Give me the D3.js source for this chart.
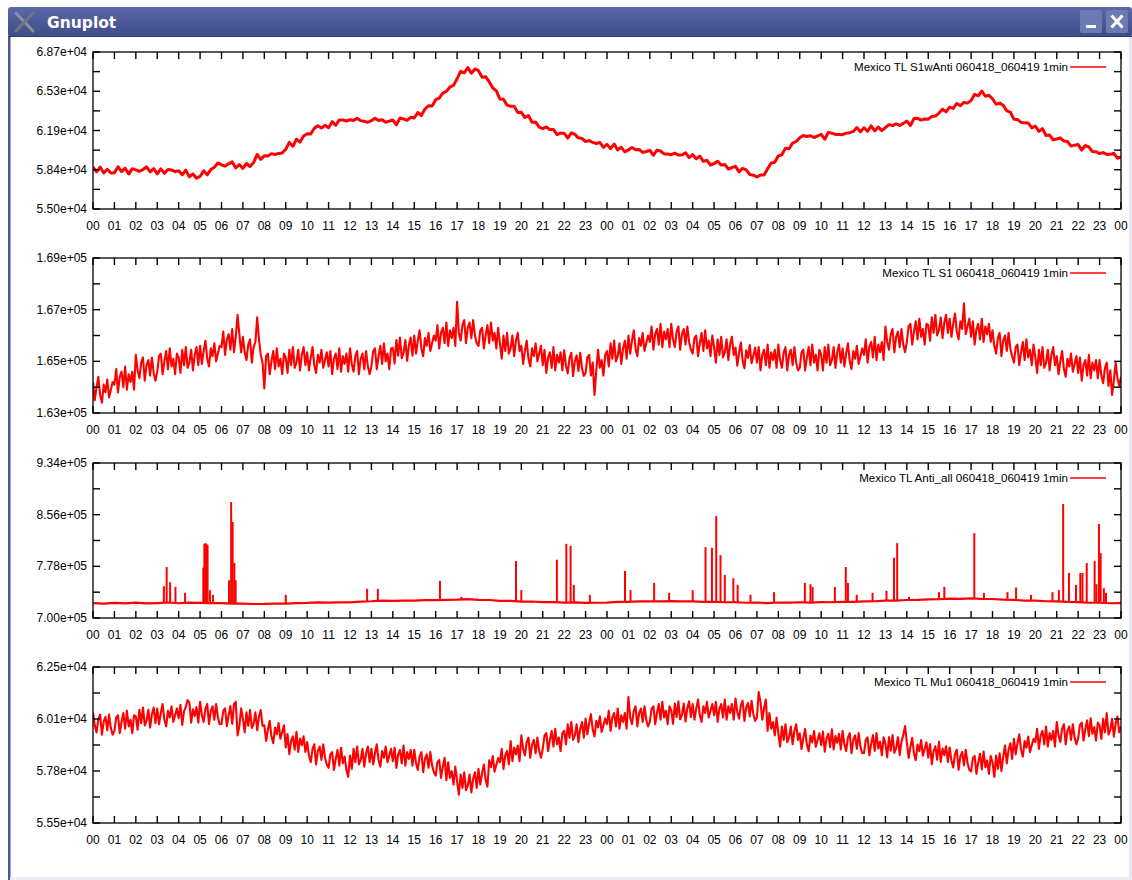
<!DOCTYPE html>
<html><head><meta charset="utf-8">
<script src="https://cdn.jsdelivr.net/npm/d3@7"></script>
<style>
body{margin:0;background:#fff;}
svg{display:block;}
text{font-family:"Liberation Sans",Arial,Helvetica,sans-serif;}
</style>
</head><body>
<svg id="c" width="1132" height="880"></svg>
<script>
// ---------------- DATA ----------------
const hourTicks = [0,1,2,3,4,5,6,7,8,9,10,11,12,13,14,15,16,17,18,19,20,21,22,23,24,25,26,27,28,29,30,31,32,33,34,35,36,37,38,39,40,41,42,43,44,45,46,47,48];
const hourLabels = ["00","01","02","03","04","05","06","07","08","09","10","11","12","13","14","15","16","17","18","19","20","21","22","23",
                    "00","01","02","03","04","05","06","07","08","09","10","11","12","13","14","15","16","17","18","19","20","21","22","23","00"];

const legendLabels = [
  "Mexico TL S1wAnti 060418_060419 1min",
  "Mexico TL S1 060418_060419 1min",
  "Mexico TL Anti_all 060418_060419 1min",
  "Mexico TL Mu1 060418_060419 1min"
];

const s1wAntiDomain = [55000, 68700];
const s1wAntiTicks = [55000, 58425, 61850, 65275, 68700];
const s1wAntiTickLabels = ["5.50e+04","5.84e+04","6.19e+04","6.53e+04","6.87e+04"];

const s1Domain = [163000, 169000];
const s1Ticks = [163000, 165000, 167000, 169000];
const s1TickLabels = ["1.63e+05","1.65e+05","1.67e+05","1.69e+05"];

const antiAllDomain = [700000, 934000];
const antiAllTicks = [700000, 778000, 856000, 934000];
const antiAllTickLabels = ["7.00e+05","7.78e+05","8.56e+05","9.34e+05"];

const mu1Domain = [55480, 62460];
const mu1Ticks = [55480, 57807, 60133, 62460];
const mu1TickLabels = ["5.55e+04","5.78e+04","6.01e+04","6.25e+04"];

// S1wAnti, one value every 10 minutes (one row per hour)
const s1wAntiStepHours = 1/6;
const s1wAnti = [
58660,58240,58660,58140,58470,58140,
58160,58690,58260,58560,58050,58520,
58420,58290,58440,58670,58240,58520,
58070,58500,58110,58450,58410,58260,
58340,57980,58390,57810,58060,57690,
57840,58330,57980,58440,58640,59020,
58850,58740,58940,59110,58580,58880,
58540,58970,58710,59050,59760,59330,
59640,59630,59830,59760,59850,59890,
60210,60810,60480,61090,60840,61370,
61570,61540,62040,62260,62060,62300,
62090,62620,62310,62770,62760,62680,
62790,62730,62910,62710,62650,62570,
62710,62910,62730,62790,62570,62670,
62770,62340,62940,62860,62740,63000,
62940,63420,63160,63720,64010,63980,
64540,64680,65110,65260,65650,65790,
66360,67010,66880,67340,66840,67220,
67070,66490,66540,66110,65560,65300,
64590,64570,64060,63970,63960,63430,
63440,62980,63160,62560,62600,62140,
62010,62160,61930,61940,61490,61620,
61620,61190,61640,61510,61210,61150,
60890,60970,60810,60720,60810,60380,
60640,60280,60660,60160,60380,59990,
60160,60360,60180,60190,59940,60020,
60120,59690,60140,60060,59810,59800,
59740,59870,59710,59720,59910,59480,
59740,59380,59610,59160,59250,58840,
58960,59160,58830,58890,58490,58620,
58720,58240,58540,58410,58010,57950,
57790,57970,57960,58520,59010,59080,
59640,59730,60310,60260,60750,60890,
61210,61410,61330,61390,61240,61370,
61520,61090,61690,61610,61510,61500,
61490,61620,61660,61770,62110,61730,
62090,61780,62260,61810,62150,61840,
62110,62360,62280,62440,62290,62470,
62670,62290,62890,62910,62760,62850,
62840,63070,63110,63370,63710,63480,
63890,63780,64210,64010,64300,64240,
64460,65010,64880,65290,64840,64920,
64620,64140,64240,64060,63560,63450,
62840,62820,62560,62520,62510,62080,
62240,61780,62010,61410,61450,61040,
61110,61210,60930,60890,60490,60570,
60620,60140,60540,60410,60010,60000,
59840,59920,59760,59770,59860,59430,
59550
];

// S1, one value every 5 minutes (one row per hour)
const s1StepHours = 1/12;
const s1 = [
164200,163500,164000,164400,163700,163400,164100,163800,164300,163600,163900,164200,
164100,164700,163800,164400,164600,164000,164800,163900,164500,164200,164600,163900,
165250,164650,164350,164950,165150,164250,164850,165050,164450,165150,164550,164250,
164600,165200,165300,164500,165000,165400,164700,165500,164800,165100,164500,165300,
165150,164550,165450,164850,165550,164750,164950,165450,164650,165250,165550,164850,
165600,164900,165400,165800,165100,164800,165500,165200,165700,165000,165300,165600,
165550,166150,165250,165850,166050,165450,166250,165350,165950,166800,166050,165350,
165950,165350,165050,165650,165850,164950,165550,165750,166700,165850,165250,164950,
163950,165200,165300,164500,165000,165400,164700,165500,164800,165100,164500,165300,
165150,164550,165450,164850,165550,164750,164950,165450,164650,165250,165550,164850,
165350,164650,165150,165550,164850,164550,165250,164950,165450,164750,165050,165350,
164800,165400,164500,165100,165300,164700,165500,164600,165200,164900,165300,164600,
165500,164900,164600,165200,165400,164500,165100,165300,164700,165400,164800,164500,
164800,165400,165500,164700,165200,165600,164900,165700,165000,165300,164700,165500,
165520,164920,165820,165220,165920,165120,165320,165820,165020,165620,165920,165220,
166000,165300,165800,166200,165500,165200,165900,165600,166100,165400,165700,166000,
165800,166400,165500,166100,166300,165700,166500,165600,166200,165900,166300,165600,
167300,166100,165800,166400,166600,165700,166300,166500,165900,166600,166000,165700,
165600,166200,166300,165500,166000,166400,165700,166500,165800,166100,165500,166300,
165700,165100,166000,165400,166100,165300,165500,166000,165200,165800,166100,165400,
165600,164900,165400,165800,165100,164800,165500,165200,165700,165000,165300,165600,
164850,165450,164550,165150,165350,164750,165550,164650,165250,164950,165350,164650,
165430,164830,164530,165130,165330,164430,165030,165230,164630,165330,164730,164430,
164550,165150,165250,164450,164950,163700,164650,165450,164750,165050,164450,165250,
165400,164800,165700,165100,165800,165000,165200,165700,164900,165500,165800,165100,
166000,165300,165800,166200,165500,165200,165900,165600,166100,165400,165700,166000,
165750,166350,165450,166050,166250,165650,166450,165550,166150,165850,166250,165550,
166450,165850,165550,166150,166350,165450,166050,166250,165650,166350,165750,165450,
165300,165900,166000,165200,165700,166100,165400,166200,165500,165800,165200,166000,
165550,164950,165850,165250,165950,165150,165350,165850,165050,165650,165950,165250,
165530,164830,165330,165730,165030,164730,165430,165130,165630,164930,165230,165530,
164950,165550,164650,165250,165450,164850,165650,164750,165350,165050,165450,164750,
165650,165050,164750,165350,165550,164650,165250,165450,164850,165550,164950,164650,
164750,165350,165450,164650,165150,165550,164850,165650,164950,165250,164650,165450,
165250,164650,165550,164950,165650,164850,165050,165550,164750,165350,165650,164950,
165500,164800,165300,165700,165000,164700,165400,165100,165600,164900,165200,165500,
165250,165850,164950,165550,165750,165150,165950,165050,165650,165350,165750,165050,
166350,165750,165450,166050,166250,165350,165950,166150,165550,166250,165650,165350,
165750,166350,166450,165650,166150,166550,165850,166650,165950,166250,165650,166450,
166400,165800,166700,166100,166800,166000,166200,166700,165900,166500,166800,166100,
166650,165950,166450,166850,166150,165850,166550,166250,167250,166050,166350,166650,
165950,166550,165650,166250,166450,165850,166650,165750,166350,166050,166450,165750,
166200,165600,165300,165900,166100,165200,165800,166000,165400,166100,165500,165200,
164950,165550,165650,164850,165350,165750,165050,165850,165150,165450,164850,165650,
165150,164550,165450,164850,165550,164750,164950,165450,164650,165250,165550,164850,
165200,164500,165000,165400,164700,164400,165100,164800,165300,164600,164900,165200,
164550,165150,164250,164850,165050,164450,165250,164350,164950,164650,165050,164350,
165050,164450,164150,164750,164950,164050,164650,163700,164250,164950,164350,164050,
164400
];

// Anti_all baseline, one value every 30 minutes
const antiAllBaseStepHours = 0.5;
const antiAllBase = [
722500,721600, 722900,722000, 723200,722100, 722600,723400, 722300,723100,
722700,722400, 722500,721800, 721600,721100, 721200,721700, 721600,722600,
722800,723600, 723300,723500, 723600,724800, 725300,726300, 725900,726100,
726300,727100, 726900,727300, 727600,728400, 727300,727200, 725800,725900,
724800,724900, 724000,724000, 723300,723500, 722800,723000, 723300,724200,
724300,725200, 725000,725200, 725600,725000, 725200,724400, 724500,723800,
723800,723000, 723200,722600, 723400,723300, 723800,723200, 724000,723800,
724400,724300, 725200,725300, 726200,726300, 727200,727300, 728200,728300,
729200,729000, 729700,728800, 728700,727800, 727400,726300, 726200,725300,
725200,724300, 724000,723000, 723000,722300, 722600
];
// Anti_all short bursts: [hour, peak value]
const antiAllSpikes = [
[3.31,748000],[3.44,777000],[3.60,754000],[3.85,747000],[4.30,738000],
[5.15,776000],[5.20,812000],[5.25,813000],[5.30,812000],[5.35,810000],[5.46,742000],[5.60,735000],
[6.35,757000],[6.45,875000],[6.52,845000],[6.60,783000],[6.66,757000],
[9.00,735000],[12.80,744000],[13.30,744000],[16.20,756000],[17.20,732000],
[19.75,786000],[20.00,742000],[21.66,788000],[22.10,812000],[22.30,809000],[22.45,750000],[23.20,735000],
[24.84,771000],[25.10,742000],[26.20,753000],[26.90,738000],[28.00,742000],
[28.60,807000],[28.90,806000],[29.10,854000],[29.30,795000],[29.50,765000],[29.90,760000],[30.10,750000],
[30.70,735000],[31.80,739000],
[33.24,753000],[33.50,751000],[33.60,747000],[34.64,747000],[35.15,777000],[35.25,753000],[35.66,735000],
[36.40,738000],[37.05,741000],[37.40,791000],[37.55,813000],[38.10,732000],
[39.50,739000],[39.75,747000],[41.15,828000],[41.60,738000],[42.70,739000],[43.10,746000],[43.80,735000],
[44.80,739000],[45.10,742000],[45.30,872000],[45.57,768000],[45.90,750000],[46.10,768000],[46.20,768000],
[46.40,783000],[46.77,786000],[46.85,751000],[46.97,842000],[47.05,798000],[47.20,745000],[47.30,738000]
];

// Mu1, one value every 5 minutes (one row per hour)
const mu1StepHours = 1/12;
const mu1 = [
60430,59830,59530,60130,60330,59430,60030,60230,59630,60330,59730,59430,
59600,60200,60300,59500,60000,60400,59700,60500,59800,60100,59500,60300,
60250,59650,60550,59950,60650,59850,60050,60550,59750,60350,60650,59950,
60600,59900,60400,60800,60100,59800,60500,60200,60700,60000,60300,60600,
60170,60770,59870,60470,60670,60980,60870,59970,60570,60270,60670,59970,
60900,60300,60000,60600,60800,59900,60500,60700,60100,60800,60200,59900,
59910,60510,60610,59810,60310,60710,59910,60810,60900,59400,59810,60610,
60130,59530,60430,59830,60530,59730,59930,60430,59630,60230,60530,59830,
59850,59150,59650,60050,59350,59050,59750,59450,59950,59250,59550,59850,
58860,59460,58560,59160,59360,58760,59560,58660,59260,58960,59360,58660,
59100,58500,58200,58800,59000,58100,58700,58900,58300,59000,58400,58100,
57950,58550,58650,57850,58350,58750,58050,58850,58150,58450,57850,57540,
58500,57900,58800,58200,58900,58100,58300,58800,58000,58600,58900,58200,
58800,58100,58600,59000,58300,58000,58700,58400,58900,58200,58500,58800,
58250,58850,57950,58550,58750,58150,58950,58050,58650,58350,58750,58050,
58750,58150,57850,58450,58650,57750,58350,58550,57950,58650,58050,57750,
57600,58200,58300,57500,58000,58400,57400,58200,57500,57800,57200,58000,
57350,56750,57650,57050,57750,56950,57150,57650,56850,57450,57750,57050,
57900,57200,57700,58100,57400,57100,58280,57980,58480,57780,58080,58380,
58200,58800,57900,58500,58700,58100,59150,58250,58850,58550,58950,58250,
59400,58800,58500,59100,59300,58400,59000,59200,58600,59300,58700,58400,
58800,59400,59500,58700,59200,59600,58900,59700,59000,59300,58700,59500,
59600,59000,59900,59300,60000,59200,59400,59900,59100,59700,60000,59300,
60150,59450,59950,60350,59650,59350,60050,59750,60250,59550,59850,60150,
59900,60500,59600,60200,60400,59800,60600,59700,60300,60000,60400,59700,
61120,60200,59900,60500,60700,59800,60400,60600,60000,60700,60100,59800,
60000,60600,60700,59900,60400,60800,60100,60900,60200,60500,59900,60700,
60520,59920,60820,60220,60920,60120,60320,60820,60020,60620,60920,60220,
60800,60100,60600,61000,60300,60000,60700,60400,60900,60200,60500,60800,
60300,60900,60000,60600,60800,60200,61000,60100,60700,60400,60800,60100,
61050,60450,60150,60750,60950,60050,60650,60850,60250,60950,60350,60050,
60200,61340,60900,60100,60600,61000,59600,60400,59700,60000,59400,60200,
59500,58900,59800,59200,59900,59100,59300,59800,59000,59600,59900,59200,
59490,58790,59290,59690,58990,58690,59390,59090,59590,58890,59190,59490,
58970,59570,58670,59270,59470,58870,59670,58770,59370,59070,59470,58770,
59600,59000,58700,59300,59500,58600,59200,59400,58800,59500,58900,58600,
58610,59210,59310,58510,59010,59410,58710,59510,58810,59110,58510,59310,
59020,58420,59320,58720,59420,58620,58820,59320,58520,59120,59420,59820,
59090,58390,58890,59290,58590,58290,58990,58690,59190,58490,58790,59090,
58410,59010,58110,58710,58910,58310,59110,58210,58810,58510,58910,58210,
58860,58260,57960,58560,58760,57860,58460,58660,58060,58760,58160,57860,
57780,58380,58480,57680,58180,58580,57880,58680,57980,58280,57680,58480,
58200,57540,58500,57900,58600,57800,58450,58950,58150,58750,59050,58350,
59250,58550,59050,59450,58750,58450,59150,58850,59350,58650,58950,59250,
59100,59700,58800,59400,59600,59000,59800,58900,59500,59200,59600,58900,
60000,59400,59100,59700,59900,59000,59600,59800,59200,59900,59300,59000,
59270,59870,59970,59170,59670,60070,59370,60170,59470,59770,59170,59970,
59840,59240,60140,59540,60400,59440,59640,60140,59340,59940,60240,59540,
59800
];

// ---------------- LAYOUT ----------------
const svg = d3.select("#c");
const RED = "#ff0000";
const plotLeft = 93, plotRight = 1121;
const panels = [
  {top:52,  bottom:209, domain:s1wAntiDomain, ticks:s1wAntiTicks, labels:s1wAntiTickLabels, legend:legendLabels[0], series:s1wAnti, step:s1wAntiStepHours, width:3.0},
  {top:258, bottom:413, domain:s1Domain,      ticks:s1Ticks,      labels:s1TickLabels,      legend:legendLabels[1], series:s1,      step:s1StepHours,      width:2.1},
  {top:463, bottom:618, domain:antiAllDomain, ticks:antiAllTicks, labels:antiAllTickLabels, legend:legendLabels[2], series:null,    step:null,             width:2.2},
  {top:667, bottom:823, domain:mu1Domain,     ticks:mu1Ticks,     labels:mu1TickLabels,     legend:legendLabels[3], series:mu1,     step:mu1StepHours,     width:2.1}
];

// window chrome
const defs = svg.append("defs");
const g1 = defs.append("linearGradient").attr("id","tb").attr("x1",0).attr("y1",0).attr("x2",0).attr("y2",1);
g1.append("stop").attr("offset","0%").attr("stop-color","#5a69a6");
g1.append("stop").attr("offset","100%").attr("stop-color","#3e4c8a");
svg.append("rect").attr("x",8).attr("y",7).attr("width",1124).attr("height",30).attr("rx",3).attr("fill","url(#tb)");
svg.append("rect").attr("x",8).attr("y",36).attr("width",1124).attr("height",1).attr("fill","#2f3a70");
svg.append("rect").attr("x",8).attr("y",37).attr("width",2.5).attr("height",843).attr("fill","#4b5896");
svg.append("rect").attr("x",1129).attr("y",37).attr("width",3).attr("height",843).attr("fill","#e4e7f0");
svg.append("rect").attr("x",10).attr("y",877).attr("width",1122).attr("height",3).attr("fill","#eceef4");
const icon = svg.append("g").attr("stroke-linecap","round");
icon.append("line").attr("x1",16).attr("y1",13).attr("x2",33).attr("y2",31).attr("stroke","#8a8f9c").attr("stroke-width",3);
icon.append("line").attr("x1",33).attr("y1",13).attr("x2",16).attr("y2",31).attr("stroke","#6f7483").attr("stroke-width",3);
svg.append("text").attr("x",47).attr("y",28).attr("fill","#fff").attr("font-weight","bold")
  .attr("font-size",15.5).style("font-family","'DejaVu Sans',sans-serif").text("Gnuplot");
svg.append("rect").attr("x",1080).attr("y",10).attr("width",22).attr("height",23).attr("rx",2).attr("fill","#6d7bb3");
svg.append("rect").attr("x",1086).attr("y",25).attr("width",10).attr("height",3).attr("fill","#fff");
svg.append("rect").attr("x",1106).attr("y",10).attr("width",22).attr("height",23).attr("rx",2).attr("fill","#6d7bb3");
svg.append("line").attr("x1",1111.5).attr("y1",15.5).attr("x2",1122.5).attr("y2",27.5).attr("stroke","#fff").attr("stroke-width",3);
svg.append("line").attr("x1",1122.5).attr("y1",15.5).attr("x2",1111.5).attr("y2",27.5).attr("stroke","#fff").attr("stroke-width",3);

const x = d3.scaleLinear().domain([0,48]).range([plotLeft, plotRight]);
const TICK = 7;

panels.forEach((p, pi) => {
  const y = d3.scaleLinear().domain(p.domain).range([p.bottom, p.top]);
  const g = svg.append("g");
  const clipId = "clip" + pi;
  defs.append("clipPath").attr("id", clipId).append("rect")
    .attr("x", plotLeft).attr("y", p.top).attr("width", plotRight - plotLeft).attr("height", p.bottom - p.top);

  const dg = g.append("g").attr("clip-path", `url(#${clipId})`);
  if (p.series) {
    const line = d3.line().x((d,i) => x(i * p.step)).y(d => y(d));
    dg.append("path").datum(p.series).attr("d", line).attr("fill","none")
      .attr("stroke", RED).attr("stroke-width", p.width).attr("stroke-linejoin","round");
  } else {
    const line = d3.line().x((d,i) => x(i * antiAllBaseStepHours)).y(d => y(d));
    dg.append("path").datum(antiAllBase).attr("d", line).attr("fill","none")
      .attr("stroke", RED).attr("stroke-width", p.width).attr("stroke-linejoin","round");
    dg.selectAll("line.spike").data(antiAllSpikes).join("line").attr("class","spike")
      .attr("x1", d => x(d[0])).attr("x2", d => x(d[0]))
      .attr("y1", d => y(antiAllBase[Math.round(d[0] / antiAllBaseStepHours)]))
      .attr("y2", d => y(d[1]))
      .attr("stroke", RED).attr("stroke-width", 2.0);
  }

  g.append("rect").attr("x", plotLeft).attr("y", p.top)
    .attr("width", plotRight - plotLeft).attr("height", p.bottom - p.top)
    .attr("fill","none").attr("stroke","#000").attr("stroke-width",1.3);

  const xt = g.append("g").attr("stroke","#000").attr("stroke-width",1.4);
  hourTicks.forEach(h => {
    const xx = x(h);
    xt.append("line").attr("x1",xx).attr("x2",xx).attr("y1",p.bottom).attr("y2",p.bottom - TICK);
    xt.append("line").attr("x1",xx).attr("x2",xx).attr("y1",p.top).attr("y2",p.top + TICK);
  });
  g.selectAll("text.xl").data(hourTicks).join("text").attr("class","xl")
    .attr("x", h => x(h)).attr("y", p.bottom + 21).attr("text-anchor","middle")
    .attr("font-size",12).attr("fill","#000").text((h,i) => hourLabels[i]);

  const minor = p.ticks.slice(1).map((t,i) => (t + p.ticks[i]) / 2);
  const yt = g.append("g").attr("stroke","#000").attr("stroke-width",1.4);
  p.ticks.concat(minor).forEach(t => {
    const yy = y(t);
    yt.append("line").attr("x1",plotLeft).attr("x2",plotLeft + TICK).attr("y1",yy).attr("y2",yy);
    yt.append("line").attr("x1",plotRight).attr("x2",plotRight - TICK).attr("y1",yy).attr("y2",yy);
  });
  g.selectAll("text.yl").data(p.ticks).join("text").attr("class","yl")
    .attr("x", plotLeft - 6).attr("y", t => y(t) + 4).attr("text-anchor","end")
    .attr("font-size",12).attr("fill","#000").text((t,i) => p.labels[i]);

  g.append("text").attr("x",1068).attr("y",p.top + 19).attr("text-anchor","end")
    .attr("font-size",11.6).attr("fill","#000").text(p.legend);
  g.append("line").attr("x1",1070).attr("x2",1106).attr("y1",p.top + 15).attr("y2",p.top + 15)
    .attr("stroke",RED).attr("stroke-width",1.4);
});
</script>
</body></html>
